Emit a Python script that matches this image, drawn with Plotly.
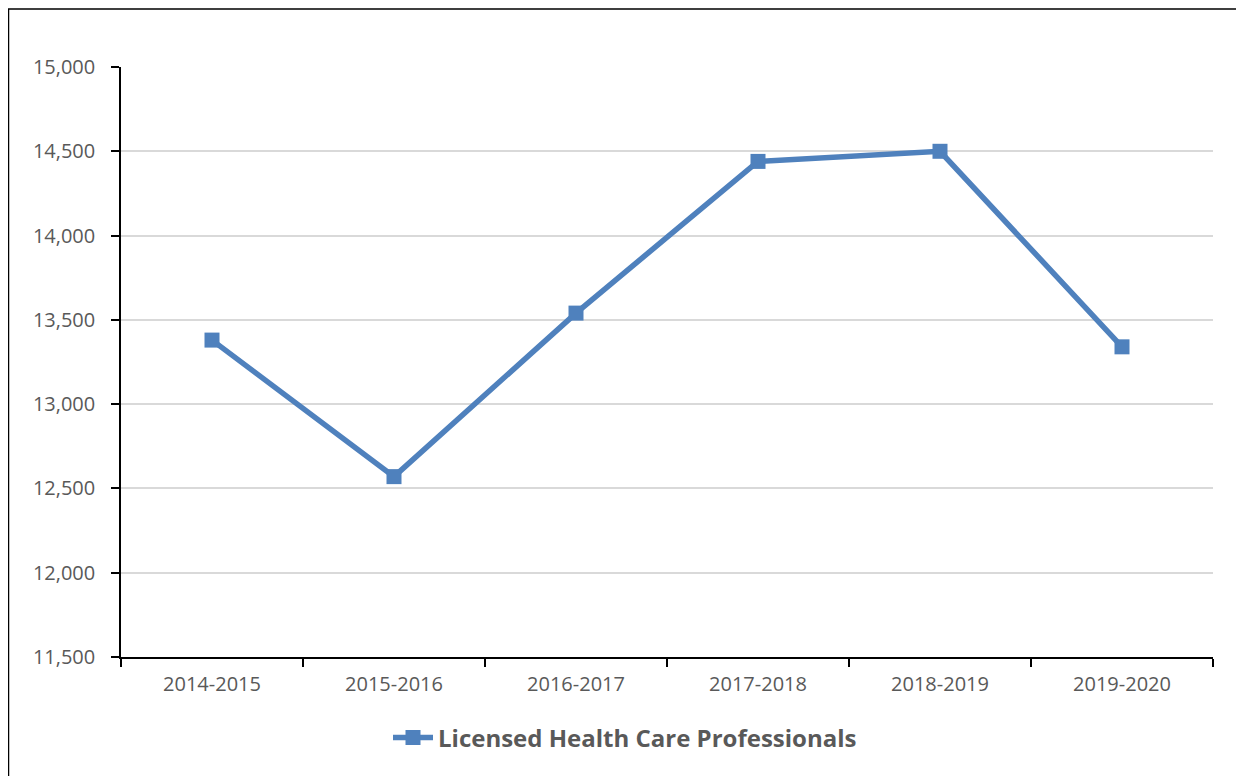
import plotly.graph_objects as go

categories = ["2014-2015", "2015-2016", "2016-2017", "2017-2018", "2018-2019", "2019-2020"]
values = [13380, 12570, 13540, 14440, 14500, 13340]
series_name = "Licensed Health Care Professionals"
y_ticks = [11500, 12000, 12500, 13000, 13500, 14000, 14500, 15000]

OFF = 8  # page body margin
W, H = 1244 - OFF, 776 - OFF
# target plot area in page pixels: x 121..1213, y 67..657
L, T = 121 - OFF, 67 - OFF
R = W - (1213 - OFF)
B = H - (657 - OFF)
pw, ph = W - L - R, H - T - B

def px_x(x):
    return (x - OFF - L) / pw

def px_y(y):
    return (H - B - (y - OFF)) / ph

fig = go.Figure()
fig.add_trace(go.Scatter(
    x=categories, y=values, mode="lines+markers", name=series_name,
    line=dict(color="#4F81BD", width=5.5),
    marker=dict(symbol="square", size=15, color="#4F81BD"),
))

fig.update_layout(
    width=W, height=H,
    margin=dict(l=L, r=R, t=T, b=B),
    paper_bgcolor="white", plot_bgcolor="white",
    font=dict(family="Open Sans", size=20, color="#595959"),
    showlegend=True,
    legend=dict(orientation="h", x=px_x(625), xanchor="center", y=px_y(738), yanchor="middle",
                font=dict(size=24, color="#595959", family="Open Sans", weight="bold"),
                itemwidth=40),
    xaxis=dict(type="category", tickson="boundaries", ticks="outside", ticklen=8,
               tickcolor="black", tickwidth=1.5, showline=True, linecolor="black",
               linewidth=1.5, showgrid=False, range=[-0.5, 5.5],
               ticklabelstandoff=8,
               tickfont=dict(size=20, color="#595959")),
    yaxis=dict(range=[11500, 15000], tickvals=y_ticks,
               ticktext=[f"{v:,}" for v in y_ticks],
               ticks="outside", ticklen=8, tickcolor="black", tickwidth=1.5,
               showline=True, linecolor="black", linewidth=1.5,
               showgrid=True, gridcolor="#D9D9D9", gridwidth=1.5, zeroline=False,
               ticklabelstandoff=12,
               tickfont=dict(size=20, color="#595959")),
)

fig.add_shape(type="rect", xref="paper", yref="paper",
              x0=px_x(8.5), x1=px_x(1242), y0=px_y(800), y1=px_y(9),
              line=dict(color="black", width=1.5), fillcolor="rgba(0,0,0,0)", layer="below")

fig.write_html("out.html")
